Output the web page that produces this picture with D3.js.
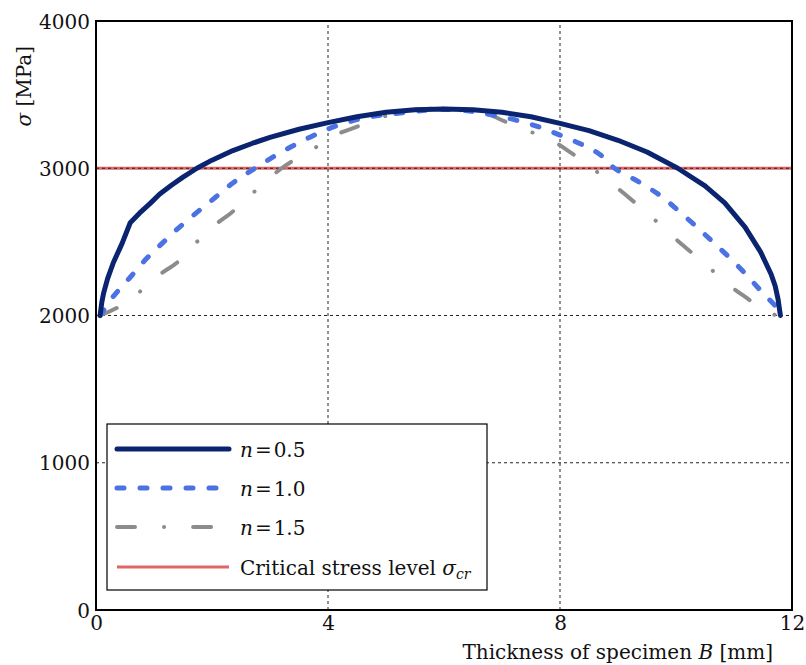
<!DOCTYPE html>
<html lang="en">
<head>
    <meta charset="UTF-8">
    <title>Stress vs thickness</title>
    <script src="https://d3js.org/d3.v7.min.js"></script>
    <style>
        body { margin: 0; background: white; }
        svg text { font-family: "DejaVu Serif", "Liberation Serif", serif; fill: #111; }
    </style>
</head>
<body>
    <svg width="806" height="665"></svg>

    <script>
        // Data: thickness B [mm] and stress sigma [MPa]
        const bHalf = [0.07, 0.1, 0.13, 0.2, 0.3, 0.45, 0.59, 0.75, 0.93, 1.1, 1.3, 1.5, 1.74, 2, 2.36, 2.7, 3, 3.5, 4, 4.5, 5, 5.5, 6,
                       6.5, 7, 7.5, 8, 8.5, 9, 9.5, 10.03, 10.5, 10.84, 11.19, 11.46, 11.64, 11.71, 11.76, 11.8];
        const sHalf = [2000, 2090, 2150, 2250, 2360, 2490, 2630, 2695, 2760, 2825, 2885, 2940, 3000, 3055, 3120, 3170, 3210, 3265, 3310, 3350, 3380, 3397, 3402,
                       3397, 3380, 3350, 3305, 3255, 3190, 3110, 3000, 2880, 2765, 2600, 2430, 2280, 2200, 2110, 2000];

        const bOne = [0.07, 0.3, 0.59, 0.88, 1.14, 1.41, 1.74, 2.05, 2.36, 2.74, 3.2, 3.69, 4.08, 4.5, 4.9, 5.36, 5.9,
                      6.4, 6.8, 7.25, 7.64, 8, 8.4, 8.7, 8.94, 9.37, 9.72, 10.03, 10.36, 10.64, 10.93, 11.22, 11.48, 11.74, 11.8];
        const sOne = [2000, 2130, 2260, 2390, 2490, 2590, 2700, 2800, 2900, 3000, 3110, 3211, 3279, 3330, 3360, 3380, 3400,
                      3390, 3365, 3326, 3280, 3225, 3157, 3090, 3000, 2905, 2817, 2716, 2600, 2498, 2390, 2274, 2160, 2050, 2000];

        const bOneHalf = [0.07, 0.4, 0.75, 1.14, 1.4, 1.74, 2.1, 2.34, 2.7, 3.2, 3.77, 4.2, 4.48, 4.93, 5.45, 5.9,
                          6.23, 6.72, 7.0, 7.47, 7.94, 8.2, 8.6, 9.1, 9.6, 9.98, 10.2, 10.58, 10.96, 11.2, 11.6, 11.8];
        const sOneHalf = [2000, 2060, 2160, 2290, 2360, 2500, 2630, 2700, 2830, 3000, 3137, 3238, 3279, 3347, 3395, 3405,
                          3395, 3374, 3326, 3252, 3170, 3102, 2987, 2830, 2661, 2525, 2450, 2322, 2193, 2125, 2016, 2000];

        const criticalStress = 3000;

        const xTicks = [0, 4, 8, 12];
        const yTicks = [0, 1000, 2000, 3000, 4000];

        const legendLabels = ["0.5", "1.0", "1.5"];

        const width = 806, height = 665;
        const margin = { top: 21, right: 14, bottom: 55, left: 96 };
        const serif = "DejaVu Serif";

        const svg = d3.select("svg");

        const x = d3.scaleLinear().domain([0, 12]).range([margin.left, width - margin.right]);
        const y = d3.scaleLinear().domain([0, 4000]).range([height - margin.bottom, margin.top]);

        const series = [
            { b: bHalf, s: sHalf, color: "#0a2470", width: 5, dash: null, curve: d3.curveLinear },
            { b: bOne, s: sOne, color: "#4a72e2", width: 5, dash: "7,16", curve: d3.curveCatmullRom.alpha(0.5) },
            { b: bOneHalf, s: sOneHalf, color: "#8c8c8c", width: 4, dash: "18,29,0.1,29", curve: d3.curveCatmullRom.alpha(0.5) }
        ];

        // Critical stress line
        svg.append("line")
           .attr("x1", x(0)).attr("x2", x(12))
           .attr("y1", y(criticalStress)).attr("y2", y(criticalStress))
           .attr("stroke", "#e06666")
           .attr("stroke-width", 3);

        // Grid (dotted, black)
        svg.append("g")
           .selectAll("line")
           .data(xTicks.slice(1, -1))
           .join("line")
           .attr("x1", d => x(d)).attr("x2", d => x(d))
           .attr("y1", y(0)).attr("y2", y(4000))
           .attr("stroke", "#222").attr("stroke-width", 1)
           .attr("stroke-dasharray", "3,3");

        svg.append("g")
           .selectAll("line")
           .data(yTicks.slice(1, -1))
           .join("line")
           .attr("x1", x(0)).attr("x2", x(12))
           .attr("y1", d => y(d)).attr("y2", d => y(d))
           .attr("stroke", "#222").attr("stroke-width", 1)
           .attr("stroke-dasharray", "3,3");

        // Curves
        series.slice().reverse().forEach(sr => {
            const line = d3.line().x(d => x(d[0])).y(d => y(d[1])).curve(sr.curve);
            const pts = sr.b.map((b, i) => [b, sr.s[i]]);
            svg.append("path")
               .datum(pts)
               .attr("fill", "none")
               .attr("stroke", sr.color)
               .attr("stroke-width", sr.width)
               .attr("stroke-linecap", "round")
               .attr("stroke-linejoin", "round")
               .attr("stroke-dasharray", sr.dash)
               .attr("d", line);
        });

        // Axes
        svg.append("g")
           .attr("transform", `translate(0,${y(0)})`)
           .call(d3.axisBottom(x).tickValues(xTicks).tickSize(0).tickPadding(6))
           .call(g => g.select(".domain").remove())
           .attr("font-family", serif)
           .selectAll("text")
           .style("font-size", "20px");

        svg.append("g")
           .attr("transform", `translate(${x(0)},0)`)
           .call(d3.axisLeft(y).tickValues(yTicks).tickFormat(d3.format("d")).tickSize(0).tickPadding(6))
           .call(g => g.select(".domain").remove())
           .attr("font-family", serif)
           .selectAll("text")
           .attr("dy", "0.35em")
           .style("font-size", "20px");

        // Frame
        svg.append("rect")
           .attr("x", x(0)).attr("y", y(4000))
           .attr("width", x(12) - x(0)).attr("height", y(0) - y(4000))
           .attr("fill", "none")
           .attr("stroke", "#000")
           .attr("stroke-width", 2);

        // Axis labels
        const xl = svg.append("text")
           .attr("x", 773)
           .attr("y", 659)
           .attr("text-anchor", "end")
           .attr("font-family", serif)
           .style("font-size", "20px");
        xl.append("tspan").text("Thickness of specimen ");
        xl.append("tspan").style("font-style", "italic").text("B");
        xl.append("tspan").text(" [mm]");

        const yl = svg.append("text")
           .attr("transform", "rotate(-90)")
           .attr("x", -46)
           .attr("y", 31)
           .attr("text-anchor", "end")
           .attr("font-family", serif)
           .style("font-size", "20px");
        yl.append("tspan").style("font-style", "italic").text("σ");
        yl.append("tspan").text(" [MPa]");

        // Legend
        const legend = svg.append("g").attr("transform", "translate(107,424)");
        legend.append("rect")
              .attr("width", 380).attr("height", 166)
              .attr("fill", "white")
              .attr("stroke", "#000").attr("stroke-width", 1.2);

        const rowY = [25, 64, 103, 143];
        series.forEach((sr, i) => {
            legend.append("line")
                  .attr("x1", 10).attr("x2", 122)
                  .attr("y1", rowY[i]).attr("y2", rowY[i])
                  .attr("stroke", sr.color)
                  .attr("stroke-width", sr.width)
                  .attr("stroke-linecap", "round")
                  .attr("stroke-dasharray", sr.dash);
            const t = legend.append("text")
                  .attr("x", 133).attr("y", rowY[i] + 8)
                  .attr("font-family", serif)
                  .style("font-size", "20px");
            t.append("tspan").style("font-style", "italic").text("n");
            t.append("tspan").text("\u200A=\u200A" + legendLabels[i]);
        });

        legend.append("line")
              .attr("x1", 10).attr("x2", 122)
              .attr("y1", rowY[3]).attr("y2", rowY[3])
              .attr("stroke", "#e06666").attr("stroke-width", 3);
        const tc = legend.append("text")
              .attr("x", 133).attr("y", rowY[3] + 8)
              .attr("font-family", serif)
              .style("font-size", "20px");
        tc.append("tspan").text("Critical stress level ");
        tc.append("tspan").style("font-style", "italic").text("σ");
        tc.append("tspan").style("font-style", "italic").style("font-size", "14px").attr("dy", 4).text("cr");
    </script>
</body>
</html>
